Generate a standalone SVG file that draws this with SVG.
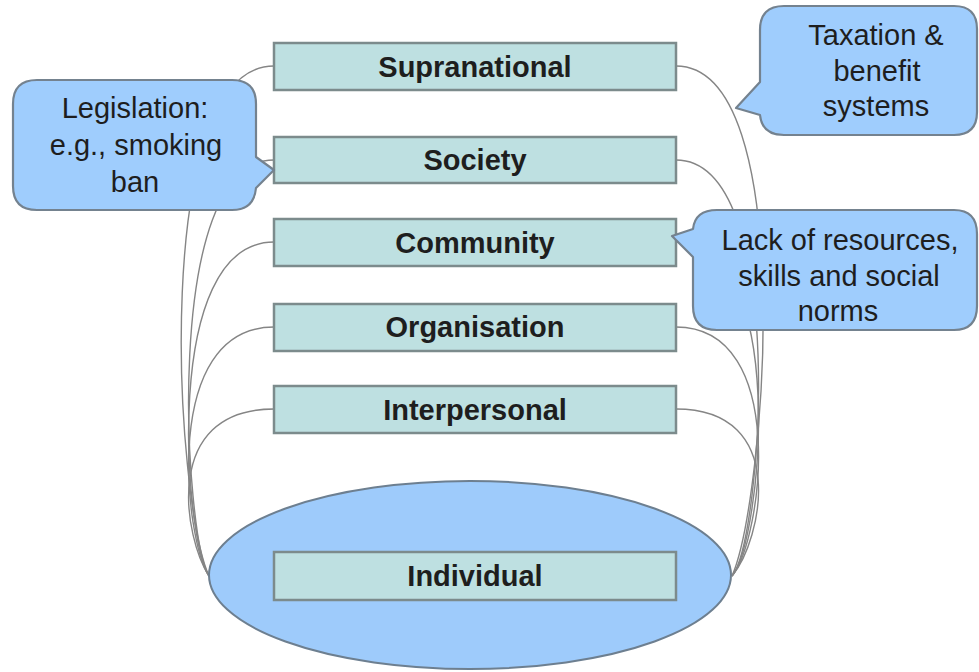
<svg xmlns="http://www.w3.org/2000/svg" width="979" height="672" viewBox="0 0 979 672">
<style>
.bg{fill:#ffffff}
.conn{fill:none;stroke:#858585;stroke-width:1.4}
.box{fill:#bee0e1;stroke:#7c8b8c;stroke-width:2.5}
.ell{fill:#9ecbfb;stroke:#6d7f90;stroke-width:2}
.call{fill:#9fcdfd;stroke:#74828f;stroke-width:2.2;stroke-linejoin:round}
.bt{font-family:"Liberation Sans",Arial,sans-serif;font-weight:bold;font-size:29px;fill:#1e1e1e;text-anchor:middle}
.ct{font-family:"Liberation Sans",Arial,sans-serif;font-size:29px;fill:#1e1e1e;text-anchor:middle}
</style>
<rect class="bg" x="0" y="0" width="979" height="672"/>
<g id="connectors">
  <path class="conn" d="M274,66 C150,66 175,500 209,576"/>
  <path class="conn" d="M274,160 C160,160 185,540 209,576"/>
  <path class="conn" d="M274,242 C160,242 185,540 209,576"/>
  <path class="conn" d="M274,327 C160,327 185,540 209,576"/>
  <path class="conn" d="M274,409 C160,409 185,540 209,576"/>
  <path class="conn" d="M676,66 C800,66 765,500 732,576"/>
  <path class="conn" d="M676,160 C790,160 762,540 732,576"/>
  <path class="conn" d="M676,242 C790,242 762,540 732,576"/>
  <path class="conn" d="M676,327 C790,327 762,540 732,576"/>
  <path class="conn" d="M676,409 C790,409 762,540 732,576"/>
</g>
<g id="individual">
  <ellipse class="ell" cx="470" cy="575" rx="261" ry="94"/>
  <rect class="box" x="274" y="552" width="402" height="48"/>
  <text class="bt" x="475" y="586">Individual</text>
</g>
<g id="supranational">
  <rect class="box" x="274" y="43" width="402" height="47"/>
  <text class="bt" x="475" y="77">Supranational</text>
</g>
<g id="society">
  <rect class="box" x="274" y="137" width="402" height="46"/>
  <text class="bt" x="475" y="170">Society</text>
</g>
<g id="community">
  <rect class="box" x="274" y="219" width="402" height="47"/>
  <text class="bt" x="475" y="253">Community</text>
</g>
<g id="organisation">
  <rect class="box" x="274" y="304" width="402" height="47"/>
  <text class="bt" x="475" y="337">Organisation</text>
</g>
<g id="interpersonal">
  <rect class="box" x="274" y="386" width="402" height="47"/>
  <text class="bt" x="475" y="420">Interpersonal</text>
</g>
<g id="callout-legislation">
  <path class="call" d="M37,80 H232 Q256,80 256,104 V157 L274,170 L256,188 Q254,210 232,210 H37 Q13,210 13,186 V104 Q13,80 37,80 Z"/>
  <text class="ct" x="135" y="118">Legislation:</text>
  <text class="ct" x="136" y="155">e.g., smoking</text>
  <text class="ct" x="135" y="192">ban</text>
</g>
<g id="callout-taxation">
  <path class="call" d="M784,6 H954 Q977,6 977,29 V112 Q977,135 954,135 H784 Q762,135 760,115 L736,108 L760,82 V30 Q760,6 784,6 Z"/>
  <text class="ct" x="876" y="45">Taxation &amp;</text>
  <text class="ct" x="877" y="81">benefit</text>
  <text class="ct" x="876" y="116">systems</text>
</g>
<g id="callout-resources">
  <path class="call" d="M717,210 H954 Q977,210 977,234 V306 Q977,330 954,330 H717 Q693,330 693,306 V257 L672,236 L693,229 Q695,210 717,210 Z"/>
  <text class="ct" x="840" y="250">Lack of resources,</text>
  <text class="ct" x="839" y="286">skills and social</text>
  <text class="ct" x="838" y="321">norms</text>
</g>
</svg>
